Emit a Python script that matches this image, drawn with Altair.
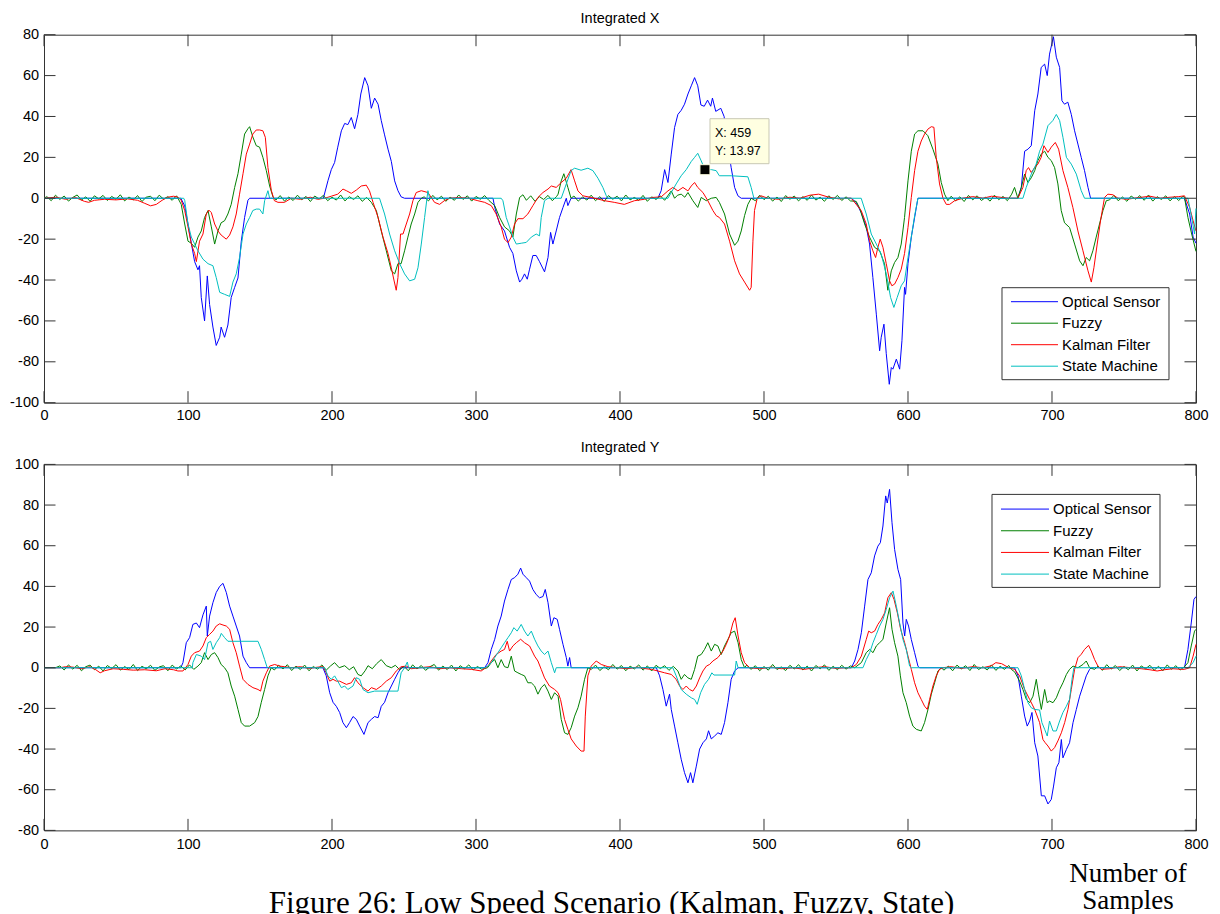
import altair as alt
import pandas as pd

SERIES = ["Optical Sensor", "Fuzzy", "Kalman Filter", "State Machine"]
COLORS = ["#0000ff", "#008000", "#ff0000", "#00bfbf"]
X_TICKS = [0, 100, 200, 300, 400, 500, 600, 700, 800]
TOP_Y_TICKS = [-100, -80, -60, -40, -20, 0, 20, 40, 60, 80]
BOT_Y_TICKS = [-80, -60, -40, -20, 0, 20, 40, 60, 80, 100]
TOP_TITLE = "Integrated X"
BOT_TITLE = "Integrated Y"
CAPTION = "Figure 26: Low Speed Scenario (Kalman, Fuzzy, State)"
XLABEL_LINES = ["Number of", "Samples"]
TIP_X = [459]
TIP_Y = [13.97]

# ---------------- Integrated X ----------------
X_OPT = [(0,0),(95,0),(97.7,-3.7),(100,-12.6),(102.3,-22),(104.6,-31),(106.9,-35),(108,-33),(109.2,-48.5),
 (111.5,-60),(113.4,-38),(115,-52),(117.3,-63),(119.6,-72),(122,-68),(123,-63),(125.4,-68),(127.7,-62),(130,-48.5),
 (132.4,-43.6),(134.7,-39),(137,-21),(139.3,-9.4),(141.6,-1),(142.8,0),(194,0),(197.2,8.6),(199.5,14),(201.8,17.5),
 (204,25),(206.5,33),(208.8,36.6),(211,36),(213.4,39.5),(215.7,34),(218,41),(220,51),(222.7,59),(225,55),(227.3,44),
 (229.6,49),(232,46),(234.2,38),(236.5,31),(238.9,24),(241.2,18),(243.5,8.5),(245.8,3.7),(248,0.7),(250.4,0),
 (311.8,0),(313,-4.5),(316.4,-12.6),(319.8,-16),(323.3,-24),(325.6,-27),(328,-35.5),(330.3,-41),(331.9,-39.6),
 (333.7,-37),(335.6,-39.6),(337.2,-34.7),(339.5,-28),(341.8,-28),(344.1,-31),(347.6,-36),(350,-29),(351.8,-16.7),
 (353.4,-22.4),(355.7,-16),(358,-9.4),(360.4,-4.5),(362.7,0),(363.8,-3.6),(366,0),
 (426.3,0),(428.6,3.7),(431,14),(433.3,7.7),(435.6,21.6),(437.9,34.6),(440.2,41),(442.5,43),(444.8,46),(447.2,51),
 (449.5,55),(451.8,59),(454,55),(456.2,45.6),(458.5,45),(460.8,48),(463,45),(464.2,49),(466.5,42.5),(470,44),
 (472.3,40),(475,25),(477.2,15),(479.6,5.3),(481.9,1.2),(484.2,0),
 (560.6,0),(564,-2),(567.5,-7),(571,-14),(573.3,-22.4),(575.6,-38.8),(578,-56.7),(580.3,-74.6),(581.4,-68),
 (583.3,-61.6),(584.9,-76),(587,-91),(588.4,-82.8),(589.5,-83.6),(591.9,-78.7),(594.2,-83.6),(595.8,-69.7),
 (597.6,-43.6),(598.3,-47),(600,-32),(602.3,-19),(604.6,-9.4),(606.9,0),
 (676.3,0),(678.7,5.3),(681,23),(683.3,24),(685.6,25.7),(688,42.8),(690.2,51),(692.5,64),(694.9,65.6),(696.7,60),
 (698.3,70.5),(701,79),(703,69),(705.3,64),(706.9,47.7),(708.7,46),(711,47),(713.4,41),(715.7,33),(718,26.5),
 (720.3,20),(722.6,13.5),(725,5.3),(726.8,0),(792,0),(795.6,-7.7),(798,-19),(800,-22)]

X_FUZ = [(0,0),
 (93,0),(95.3,-3),(97.7,-12.6),(100,-21),(102.3,-22),(104.6,-24),(106.9,-19),(109.2,-16),(111.5,-9.4),(113.9,-6),
 (116.2,-14),(118.5,-22.4),(120.8,-16),(123,-12),(125.4,-11),(127.7,-7.7),(130,-3),(132.4,5.3),(134.7,12),(137,21.6),
 (139.3,31.4),(141.6,34),(142.8,35),(145,30),(147.4,25.7),(149.7,25),(152,20),(154.4,13.5),(156.7,6),(159,0.7),
 (227.3,-2),(230.8,-6),(234.2,-16),(237.7,-25.7),(241.2,-35.5),(243.5,-37),(245.8,-32),(248,-32),(250.4,-25.7),
 (252.7,-19),(255,-12.6),(257.4,-7.7),(259.7,-2),(262,0),
 (313,-3.6),(316.4,-9.4),(319.8,-14),(323.3,-16),(325.6,-19),(328,-7.7),(330.3,0.4),(332.6,1.7),
 (357,2),(359.2,8.5),(361,12),(363.8,5.3),(366,0),
 (435.6,3.6),(437.9,0),(440,1.5),(442.5,2),(445,0.5),(447.2,2.8),(450.6,-1.2),(454,-4.5),(456.4,0.4),(459.9,-1.2),
 (463.4,0),(466.8,0.4),(469,-2),(472.6,-7.7),(476.1,-17.5),(479.6,-23),(481.9,-21),(484.2,-16),(486.5,-8.5),
 (488.8,-3),(491.1,0),
 (564,-1.5),(566.5,-5),(569.9,-12.6),(573.3,-19),(576.8,-24),(580.3,-25.7),(583.7,-32),(586,-45),(588.4,-35.5),
 (590.7,-31.4),(593,-29),(595.3,-22.4),(597.6,-9.4),(600,8.5),(602.3,23),(604.6,31.4),(606.9,33),(610.4,33),
 (613.8,30.6),(617.3,24),(620.8,16.7),(623.1,7.7),(625.4,2),(627.7,-1.2),
 (672,2),(674,5.3),(676.3,0),(678.7,5.3),(681,11.8),(683.3,7.7),(685.6,10),(688,13.5),(690.2,18.4),(692.5,21.6),
 (694.9,23),(697.2,20),(699.5,18.4),(701.8,15),(704.1,7),(706.4,-6),(708.7,-12),(712.2,-14.3),(715.7,-22.4),
 (719.2,-30.6),(721.5,-33),(723.8,-29),(726.1,-30.6),(728.4,-25.7),(730.7,-19),(733,-12.6),(735.4,-6),(737.7,-1.2),
 (792,0.5),(794.4,-9.4),(797,-17.5),(800,-26)]

X_FUZ_NOISE = [
 (2, 3, [0.8,-1.2,1.5,-0.6,1.1,-1.4,0.4,1.6,-0.9,0.7,-1.5,1.2,-0.3,1.4,-1.1,0.9,-0.5,1.7,-1.3,0.6,-0.8,1.3,-1.6,0.5,1.0,-1.2,1.5,-0.4,0.8,-1.0,1.2]),
 (161, 3, [-0.9,1.3,-1.4,0.6,-1.1,1.5,-0.7,0.9,-1.6,1.1,-0.4,1.4,-1.2,0.5,-0.9,1.6,-1.3,0.8,-0.6,1.2,-1.5,0.4]),
 (264, 3, [0.7,-1.3,1.4,-0.8,1.0,-1.5,0.5,-1.0,1.6,-0.6,1.2,-1.4,0.9,-0.5,1.3,-1.1]),
 (335, 3, [-1.0,1.2,-1.5,0.8,-0.6,1.4,-1.2,0.9]),
 (368, 3, [1.1,-1.4,0.6,-0.9,1.5,-1.2,0.8,-1.6,1.3,-0.5,1.0,-1.3,1.6,-0.8,0.4,-1.1,1.4,-1.5,0.7,-0.6,1.2,-1.0]),
 (494, 3, [-1.2,1.5,-0.7,1.0,-1.4,0.6,-1.6,1.3,-0.5,1.1,-1.3,0.8,-1.0,1.6,-0.9,0.5,-1.5,1.2,-0.6,1.4,-1.1,0.7,-1.3]),
 (630, 3, [1.0,-1.3,0.7,-1.6,1.4,-0.8,1.2,-1.1,0.5,-1.4,1.5,-0.7,0.9,-1.2]),
 (740, 3, [-0.8,1.4,-1.2,0.6,-1.5,1.1,-0.5,1.3,-1.0,1.6,-1.4,0.8,-0.6,1.2,-1.3,0.9,-1.1,1.0]),
]

X_KAL = [(0,0),(8,0.5),(15,-0.5),(22,0.3),(28,-1.5),(31,-2),(35,-1),(42,-0.5),(50,-0.8),(58,-0.3),(65,-1),(70,-2.5),
 (74,-3.7),(78,-3),(82,-1),(86,0.5),(90,1),(93,0.5),
 (95.3,-1),(97.7,-6),(100,-14),(102.3,-22.4),(104.6,-27),(105.8,-31),(108,-21),(110.4,-17.5),(112.7,-7.7),(114.5,-5.8),
 (116.2,-7),(118.5,-12.6),(120.8,-16),(123,-18),(126.6,-20),(128.9,-18),(131.2,-14),(133.5,-7.7),(135.8,2),(138.2,12),
 (140.5,21.6),(142.8,26.5),(145,31.4),(147.4,33.4),(149.7,33.4),(152,33),(153.7,29.8),(155.5,15),(157.9,3.7),
 (160,-1.2),(162.5,-2),(167,-2),(171.7,0),(178,-0.5),(185,0.5),(190,-0.5),
 (194.9,0),(199.5,1),(204,2),(207.6,4.5),(210,3.7),(213.4,2.4),(216.9,4),(220.3,6),(223.8,6.4),(226,3.7),(228.5,-2),
 (232,-9.4),(235.4,-19),(238.9,-27),(241.2,-34),(243,-40),(244.6,-45),(245.8,-38.8),(247.6,-17.5),(249.3,-17.5),
 (251.6,-12.6),(253.9,-7.7),(256.2,-1.2),(258.5,2.8),(262,3.7),(266.6,2.8),(271.2,-2),(274.7,-3),(278,-1.2),
 (281.6,0),(288,0.3),(295,0),
 (301.3,-1.2),(306,-2),(310.6,-3.6),(314,-7.7),(317.5,-14),(319.8,-20),(322.2,-21.7),(324.5,-19),(326.8,-12.6),
 (329.1,-10),(332.6,-10),(336,-7.7),(339.5,-3.6),(343,0.4),(346.5,2.8),(350,4.5),(352.3,6),(355.7,5.3),(359.2,7.7),
 (362.7,9.8),(366,14),(368.5,8.5),(370.8,3.6),(374.2,1.2),(380,0.4),(389.3,-1.2),(396,-2),(403,-3),(410,-1.2),
 (417,-0.5),(422.9,0.4),(428.6,0.7),(433.3,3.6),(436.7,5.3),(440.2,3.6),(443.7,5.3),(447.2,3.6),(449.5,6),(451.8,7.7),
 (454,5.3),(457.6,2.8),(461,-1.2),(464.5,-6),(466.8,-8.5),(469,-9.4),(472.6,-12.6),(476.1,-21),(479.6,-30.6),
 (483,-37),(486.5,-41),(490,-45),(491.1,-43.6),(492.3,-21),(493.4,-6),(495.3,0),(498,1.2),(502.7,0),(510,-0.5),
 (518,0.5),(525,0),(532,1.5),(538,2),(545,0.5),(552,-0.3),(558,0),
 (560.6,0),(567.5,-6),(571,-12.6),(573.3,-20.8),(575.6,-25.7),(577.5,-29),(579.1,-24),(580.7,-20),(582.6,-24),
 (584.9,-32),(587.2,-40.4),(588.8,-42.8),(590.7,-42),(593,-38.8),(595.3,-34.7),(597.6,-27),(600,-14.3),(602.3,0.4),
 (604.6,13.5),(606.9,23),(609.2,28),(611.5,31.4),(613.8,33.8),(616.2,35),(618,34.7),(619.6,20),(621.9,7),(624.3,0),
 (626.6,-3),(628.9,-3),(632.4,-1.2),(638,0),(645,0.8),(652,0),(658,1),(664,0.5),(670,0),
 (676.3,0),(679.8,5.3),(682.1,13.5),(683.7,15),(685.6,12.6),(688,15),(690.2,16.7),(692.5,20),(694.4,25.7),
 (697.2,22.4),(699.5,25),(702.3,27.3),(704.6,24),(707.6,13.5),(711,5.3),(714.5,-4.5),(718,-16),(721.5,-25.7),
 (725,-35.5),(727.3,-41),(729.1,-34),(731.4,-22.4),(733.7,-11),(736.5,0.4),(738.8,2),(742.3,1.7),(745.8,0),
 (752,-0.5),(760,0.3),(768,1),(775,0),(782,0.5),(788,0.8),(792,1.2),(795.6,-4.5),(798,-11),(800,-16)]

X_SM = [(0,0),(97,0),(97.7,-1),(100,-12.6),(102.3,-19),(104.6,-22.4),(106.9,-25.7),(110.4,-29.8),(113.9,-32),
 (117.3,-33),(119.6,-38.8),(122,-46),(125.4,-47),(128.9,-48),(131.2,-41),(133.5,-37),(135.8,-29),(138.2,-17.5),
 (140.5,-12.6),(142.8,-9.4),(145,-6),(147.4,-5.3),(149.7,-5.3),(152,-7.7),(153.2,-1.2),(155.5,3.7),(156.7,0),
 (233,0),(236.5,-7.7),(240,-17.5),(243.5,-25.7),(247,-32),(250.4,-37),(253.9,-40.4),(257.4,-39.6),(259.7,-34),
 (262,-22.4),(264.3,-9.4),(266.6,3.7),(267.8,0),
 (317.5,0),(318.7,-1.2),(321,-9.4),(323.3,-14),(325.6,-19),(328,-22.4),(331.4,-22),(334.9,-21.6),(338.4,-19),
 (341.8,-17.5),(344.1,-18.4),(345.3,-9.4),(347.6,-1.2),(350,0),(359.2,0),(362.7,7),(366,13.5),(368.5,14.7),
 (373,13.7),(377.7,14.7),(381.2,13.5),(384.7,9.8),(388.1,5.3),(390.5,1.2),(391.6,0),
 (433.3,0),(435.6,2.8),(439,7),(442.5,11),(446,14),(449.5,18),(451.8,20),(454,22),(456.4,18.3),(459,13.97),
 (463.4,14),(466.8,13.5),(469,11),(477.2,11),(488.8,10.5),(491.1,5.3),(493,0),
 (567.5,0),(571,-7.7),(574.5,-17.5),(578,-22.4),(581.4,-27.3),(584.9,-37),(587.9,-48.5),(590.2,-53.4),(592.5,-48.5),
 (595.3,-42.8),(597.6,-40.4),(600,-29),(602.3,-19),(604.6,-8.6),(606.9,0),
 (679.8,0),(682.1,5.3),(685.6,11.8),(689,16.7),(691.4,23),(693.7,26.5),(697.2,35.5),(700.6,38),(703,41),(705.3,38),
 (707.6,29.8),(710,20),(713.4,16.7),(716.9,11.8),(720.3,3.7),(722.6,0),(794.4,0),(797,-9.4),(799,-17.5),(800,-5)]

# ---------------- Integrated Y ----------------
Y_OPT = [(0,0),(95,0),(96.5,2.5),(98.8,12.3),(101.1,14.8),(103.4,21.3),(105.8,22),(108,19.7),(110.4,26),(112.7,30.3),
 (113.4,15.6),(115,25.4),(117.3,32),(119.6,37),(122,40),(124.3,41.5),(126.6,37),(128.9,30.3),(131.2,25.4),(133.5,20.5),
 (135.8,15.6),(138.2,5.7),(140.5,2.5),(142.8,0),
 (193.7,0),(196,-4),(198.4,-12.3),(200.7,-17),(203,-19),(205.3,-22),(207.6,-27),(210,-29.5),(212.2,-27),(214.6,-24),
 (216.9,-25.4),(219.2,-28.7),(222.2,-32.8),(225,-27),(227.3,-25.4),(229.6,-24),(232,-24.6),(234.2,-19),(236.5,-17),
 (238.9,-12.3),(241.2,-9),(243.5,-5.7),(245.8,-2.5),(248,0),
 (306,0),(308.3,2.5),(310.6,9),(313,14),(315.2,20.5),(317.5,25.4),(319.8,32.8),(322.2,38.5),(324.5,43.4),(326.8,44.3),
 (329.1,46),(331,49),(332.6,46),(334.9,44.3),(337.2,42.6),(339.5,38.5),(341.8,36),(344.1,34.4),(346.5,35),(348.1,38.5),
 (350,32),(352.3,20.5),(354.1,24.6),(356.4,23.8),(358,18.9),(360.4,11.5),(362.7,5),(363.8,0.8),(365,5),(366.1,0),
 (425.2,0),(427.5,-4),(429.8,-10.7),(432.1,-18.9),(434.4,-13),(435.6,-20.5),(437.9,-28.7),(440.2,-36.9),(442.5,-45),
 (444.8,-51.6),(447.2,-56.6),(449,-51.6),(450.6,-56.6),(453,-48.4),(455.3,-40),(457.6,-36.9),(460,-35),(461.5,-31),
 (463.4,-35),(465.7,-33.6),(468,-32),(470.3,-32.8),(472.6,-27),(475,-17),(477.2,-5.7),(479.6,-1.6),(482,0),
 (560.6,0),(563,3.3),(565.3,9),(567.6,17.2),(569.9,30.3),(572.2,43.4),(574.5,46.7),(576.8,55),(579.1,59.8),(580.8,61.5),
 (582.6,69.7),(584.5,84.5),(585.6,81),(587.2,87.7),(588.9,71.3),(590.7,58.2),(593,48.4),(594.9,43.4),(596.5,22),
 (597.7,15.6),(598.8,23.8),(600.4,20.5),(602.3,13.9),(604.6,7.4),(606.9,0.8),(608,0),
 (674,0),(676.4,-4),(678.7,-14),(681,-23.8),(682.8,-28.7),(684.5,-26.2),(686.1,-22),(688,-36.9),(690.2,-43.4),
 (692.6,-63),(694.9,-63),(697.2,-67),(699.5,-64.8),(701.1,-58.2),(703,-49.2),(704.8,-46.7),(706.5,-35.3),(707.6,-44.3),
 (710,-40.2),(712.2,-36.9),(714.6,-27),(716.9,-20.5),(719.2,-14),(721.5,-9),(723.8,-4),(726.1,-0.8),(727.3,0),
 (792,0),(794.4,9),(796.7,22),(798.6,33.6),(800,35)]

Y_FUZ = [(0,0),(8,0),
 (106.9,0.8),(109.2,2.5),(111.5,7.4),(113.9,4),(116.2,6.5),(118.5,7.4),(120.8,5),(123,1.6),(125.4,0),(127.7,-2.5),
 (130,-9),(132.4,-14),(134.7,-20.5),(137,-27),(139.3,-28.7),(142.8,-28.7),(146.3,-27),(148.6,-24),(150.9,-17),
 (153.2,-10.7),(155.5,-4),(157.8,0),
 (201.8,2.5),(205,0),(208.8,1),(212,-1),(215,0.5),(218,-3.3),(220.3,-4),(223,-1.5),(225,1),(228,-0.5),(231,2),
 (234.2,4),(237.7,1),(241.2,0),
 (308,0),(310.6,2.5),(313,4),(315.2,0),(317.5,4),(319.8,0.5),(322.2,0),(324.5,5.7),(326.8,-1.6),(329.1,-2.5),
 (331.4,-3.3),(333.7,-4),(336,-7.4),(338.4,-7.4),(340.7,-9),(343,-13),(345.3,-9.8),(347.6,-8.2),(350,-11.5),
 (352.3,-15.6),(354.6,-12.3),(357,-14),(359.2,-25.4),(361.5,-32),(363.8,-32.8),(366.1,-29.5),(368.5,-23.8),
 (370.8,-19.7),(373,-14),(375.4,-5.7),(377.7,0),
 (440.2,-1.6),(442.5,-5.7),(444.8,-3.3),(447.2,-5),(449.5,-5.7),(451.8,-0.8),(454,5.7),(456.4,6.5),(458.7,9),
 (461,12.3),(463.4,8.2),(465.7,11.5),(468,10.7),(470.3,6.5),(472.6,10.7),(475,14),(477.2,17.2),(479.6,18),(482,12.3),
 (484.2,4),(486.5,0),
 (563,0),(567.6,2.5),(571,7.4),(573.4,9),(575.7,7.4),(578,10.7),(580.3,12.3),(582.6,13.9),(584.9,22),(587.2,29.5),
 (588.9,18.9),(590.7,12.3),(593,5.7),(594.7,-4),(596.5,-12.3),(598.8,-17.2),(601.1,-23.8),(603.4,-28.7),(605.8,-30.3),
 (609.2,-31.1),(611.5,-27),(613.9,-20.5),(616.2,-13),(618.5,-7.4),(620.8,-1.6),(623.1,0),
 (671.7,-0.8),(674,-2),(677.5,-6.6),(679.8,-10.7),(682.2,-15.6),(684.5,-17.2),(686.8,-14),(689.1,-5.7),(690.7,-13),
 (692.6,-20.5),(694.9,-10.7),(696.7,-17.2),(698.3,-16.4),(700.7,-17.2),(703,-14.8),(705.3,-10.7),(707.6,-7.4),
 (710,-3.3),(712.2,-0.8),(714.6,0.8),(718,0),(721.5,1.6),(723.8,3.3),(726.1,0),(729.6,-0.8),
 (792,0.5),(794.4,2.5),(796.7,10.7),(799,18),(800,18.9)]

Y_FUZ_NOISE = [
 (11, 3, [0.9,-1.1,1.4,-0.7,1.2,-1.5,0.5,1.3,-1.0,0.8,-1.6,1.1,-0.4,1.5,-1.2,0.6,-0.9,1.6,-1.4,0.7,-0.5,1.2,-1.3,0.4,1.0,-1.5,1.3,-0.6,0.9,-1.1,1.4,-0.8]),
 (160, 3, [-1.1,1.2,-0.6,1.5,-1.4,0.8,-0.9,1.3,-1.5,0.6,-0.7,1.4,-1.2,0.9]),
 (244, 3, [1.2,-1.0,0.7,-1.5,1.4,-0.6,1.1,-1.3,0.5,1.6,-1.2,0.8,-0.9,1.3,-1.6,1.0,-0.5,1.4,-1.1,0.6,-0.8]),
 (380, 3, [-0.9,1.3,-1.4,0.5,-1.0,1.6,-0.7,1.1,-1.5,0.8,-0.6,1.4,-1.2,0.9,-1.6,1.2,-0.4,1.0,-1.3,0.7]),
 (488, 3, [1.3,-0.8,1.0,-1.5,0.6,-1.2,1.6,-0.9,0.4,-1.4,1.2,-0.6,1.5,-1.1,0.8,-1.6,1.1,-0.5,1.4,-1.3,0.7,-1.0,1.2,-0.7,0.9]),
 (625, 3, [-1.2,0.8,-1.5,1.3,-0.6,1.0,-1.4,1.6,-0.9,0.5,-1.1,1.4,-1.3,0.7,-0.8,1.1]),
 (732, 3, [0.8,-1.3,1.5,-0.7,1.1,-1.4,0.6,-1.0,1.3,-1.6,0.9,-0.5,1.2,-1.2,0.7,-1.5,1.4,-0.8,1.0,-1.1]),
]

Y_KAL = [(0,0),(11,0),(15,0.5),(20,0.3),(26,-0.5),(32,0.5),(36,-1),(39,-2.5),(42,-1.5),(48,-0.5),(55,-0.8),(62,-1.2),
 (70,-1),(78,-1.5),(84,-0.5),(90,-1),(93,-1.6),(96.5,-1.6),(100,1.6),(102.3,5.7),(104.6,7.4),(108,8.2),(110.4,10.7),
 (112.7,14.8),(115,16.4),(117.3,18),(119.6,20.5),(122,21.6),(124.3,21),(126.6,20.5),(128.9,18.9),(131.2,12.3),
 (133.5,7.4),(135.8,0.8),(138.2,-5.7),(141.6,-8.2),(145.1,-9.8),(148.6,-10.7),(150.4,-11.5),(152,-6.6),(154.4,-2.5),
 (156.7,0.8),(160.2,1.6),(163.6,0.8),(167.1,0.5),(172,0),(178,0.5),(184,-0.3),(190.3,0.3),
 (193.7,0.5),(196,-2.5),(198.4,-6.6),(200.7,-5.7),(203,-6.6),(205.3,-6.6),(207.6,-7.4),(210,-8.2),(213.4,-7.4),
 (215.7,-4.9),(218,-7.4),(221.5,-9.8),(225,-11.5),(227.3,-9.8),(230.8,-10.7),(234.2,-9),(237.7,-6.6),(241.2,-4.9),
 (244.6,-1.6),(248,0.5),(251.6,0.8),(255,-0.5),(260.8,0),(268,0.5),(275,-0.5),(282,0),(290,-0.5),(296.7,-0.8),
 (303.6,-1.6),(308.3,0.8),(310.6,3.3),(314,6.5),(317.5,8.2),(319.8,9),(321.7,13),(323.3,8.2),(325.6,10.7),(328,12.3),
 (331,14),(333.7,12.3),(337.2,10.7),(340.7,5.7),(343,3.3),(345.3,-0.8),(347.6,-5),(351,-9),(354.6,-10.7),(357,-12.3),
 (358.7,-15.6),(361.5,-25.4),(363.8,-30.3),(366.1,-35),(369.6,-38.5),(373,-41),(375,-41),(375.9,-23.8),(377.7,-4),
 (380,0.8),(383.5,3.3),(387,1.6),(391.6,0.5),(398.5,0),(405,-0.5),(412,0.3),(418,-0.5),
 (421.7,-0.8),(426.3,-1.6),(431,-2.5),(435.6,-3.3),(439,-5.7),(441.4,-9),(443.7,-10.7),(446,-9),(448.3,-10.7),
 (450.6,-11.5),(453,-9),(455.3,-5),(457.6,-1.6),(460,0.8),(462.2,1.6),(464.5,3.3),(468,5),(471.5,8.2),(473.8,11.5),
 (476.1,15.6),(478.4,22),(480,24.6),(482,15.6),(484.2,7.4),(486.5,2.5),(490,0),(497,-0.5),(505,0.3),(512,-0.5),
 (520,0),(528,-0.8),(535,0),(542,0.5),(550,-0.3),(556,0),
 (560.6,0),(564.1,1.6),(567.6,5.7),(571,13.9),(572.7,18),(574.5,17.2),(576.8,18),(579.1,21.3),(581.5,23.8),
 (583.8,27),(586,34.4),(588.4,36.9),(590.3,33.6),(592.6,27),(594.9,18.9),(597.7,12.3),(600,5.7),(602.3,-0.8),
 (604.6,-7.4),(606.9,-12.3),(609.2,-15.6),(611.5,-18.9),(613.4,-20.5),(615,-15.6),(617.3,-9),(619.6,-4),(621.9,-0.8),
 (624.3,0),(630,0.5),(637,-0.3),(645,0.5),(652,0),(658,1),(661,2.5),(665,2),(670,0),
 (674,-0.8),(677.5,-4),(681,-10.7),(684.5,-15.6),(688,-20.5),(691.4,-27),(693.7,-35.3),(695.3,-36.9),(697.2,-38.5),
 (699.5,-41),(701.8,-39.3),(704.1,-36),(706.5,-32),(708.8,-27),(711.1,-20.5),(713.4,-10.7),(715.7,-0.8),(718,4.9),
 (720.3,6.6),(722.6,9),(725.4,11),(727.3,8.2),(729.6,4),(731.9,0.8),(734.2,-0.8),(740,-0.5),(747,0.5),(755,0),
 (762,-0.5),(768,-1),(773,-1.6),(778,-1),(784,-0.5),(790,-0.8),(792,-0.8),(795.6,0),(798,5.7),(800,11.5)]

Y_SM = [(0,0),(103,0),(103.4,2.5),(105.8,6.5),(109.2,5.7),(111.5,4),(113.9,12.3),(115.7,13),(117.3,9),(119.6,12.3),
 (122,14.8),(123.1,16.9),(125.4,14.8),(127.7,13),(148.6,13),(150.9,9),(153.2,4),(155,0),
 (194.9,0),(197.2,-4),(199.5,-5.7),(201.8,-4),(204,-6.6),(206.5,-9.8),(208.8,-9),(211,-10.7),(214.6,-9),(216.9,-4.9),
 (219.2,-5.7),(221.5,-10.7),(225,-12.3),(229.6,-11.5),(245.8,-11.5),(248,-2.5),(250.4,0),(252.3,2.8),(253.2,0),
 (306,0),(308.3,0.8),(310.6,2.5),(313,5),(315.2,7.4),(317.5,9.8),(319.8,12.3),(322.2,14.8),(324.5,17.2),(326.3,19.7),
 (328.6,18),(331.4,21.3),(333.7,18),(336,15.6),(338.4,18),(340.7,14),(343,10.7),(345.3,8.2),(347.6,6.5),(350,8.2),
 (352.3,2.5),(354.6,-2.5),(355.7,0),
 (436.7,0),(439,-4),(442.5,-10.7),(446,-13),(449.5,-14.8),(451.8,-15.6),(453.6,-18),(456,-12.3),(458.7,-8.2),
 (461.5,-5.7),(463.8,-2.5),(465.2,-3.6),(479.6,-3.6),(480.7,3.3),(482,0),
 (568.7,0),(571,4),(573.4,7.4),(575.7,12.3),(578,16.4),(580.3,20.5),(582.6,23.8),(584.9,28.7),(587.2,34.4),
 (589.6,37.7),(591.9,30.3),(594.2,22),(596.5,13.9),(598.8,9),(601.1,0.8),(602.3,0),
 (676.4,0),(678.7,-4),(681,-10.7),(683.3,-17.2),(685.6,-19.7),(688,-20.5),(691.4,-20.8),(693,-27),(694.9,-30.3),
 (696.7,-33.6),(698.3,-26.2),(700.7,-31.1),(703,-31.1),(705.3,-26.2),(707.6,-22),(710,-18.9),(712.2,-15.6),
 (713.9,-5.7),(715.2,0),(794.4,0),(798,2.5),(800,5.7)]

FONT = "Liberation Sans"
SERIF = "Liberation Serif"
AX = "#333333"
W = 1152
TL = 11.5


def build(points, runs=()):
    pts = list(points)
    for start, step, vals in runs:
        pts += [(start + i * step, v) for i, v in enumerate(vals)]
    pts.sort()
    return pd.DataFrame(pts, columns=["s", "v"])


def one_row():
    return pd.DataFrame({"k": [0]})


def panel(series_frames, ydom, yticks, title, H, xpad, leg, extras):
    xs = alt.Scale(domain=[0, 800], nice=False, zero=False)
    ys = alt.Scale(domain=ydom, nice=False, zero=False)
    common = dict(ticks=False, domain=False, grid=False, labelFont=FONT, labelFontSize=14.5,
                  labelColor="black", labelFlush=False, labelOverlap=False, title=None,
                  labelExpr="'' + datum.value")
    xax = alt.Axis(values=X_TICKS, labelPadding=xpad, **common)
    yax = alt.Axis(values=yticks, labelPadding=5.5, minExtent=35, maxExtent=35, **common)
    X = lambda f: alt.X(f, type="quantitative", scale=xs, axis=xax)
    Y = lambda f: alt.Y(f, type="quantitative", scale=ys, axis=yax)
    layers = []
    for name, color in zip(SERIES, COLORS):
        layers.append(alt.Chart(series_frames[name]).mark_line(color=color, strokeWidth=1).encode(
            x=X("s"), y=Y("v")))
    xt = pd.DataFrame({"s": X_TICKS})
    yt = pd.DataFrame({"v": yticks})
    layers.append(alt.Chart(xt).mark_rule(color=AX, strokeWidth=1).encode(
        x=X("s"), y=alt.value(0), y2=alt.value(TL)))
    layers.append(alt.Chart(xt).mark_rule(color=AX, strokeWidth=1).encode(
        x=X("s"), y=alt.value(H - TL), y2=alt.value(H)))
    layers.append(alt.Chart(yt).mark_rule(color=AX, strokeWidth=1).encode(
        y=Y("v"), x=alt.value(0), x2=alt.value(TL)))
    layers.append(alt.Chart(yt).mark_rule(color=AX, strokeWidth=1).encode(
        y=Y("v"), x=alt.value(W - TL), x2=alt.value(W)))
    # legend (drawn by hand, MATLAB style)
    bx0, by0, bx1, by1, ly0, lstep, lx0, lx1, tx = leg
    layers.append(alt.Chart(one_row()).mark_rect(fill="white", stroke=AX, strokeWidth=1).encode(
        x=alt.value(bx0), x2=alt.value(bx1), y=alt.value(by0), y2=alt.value(by1)))
    for i, (name, color) in enumerate(zip(SERIES, COLORS)):
        yy = ly0 + i * lstep
        layers.append(alt.Chart(one_row()).mark_rule(color=color, strokeWidth=1).encode(
            x=alt.value(lx0), x2=alt.value(lx1), y=alt.value(yy)))
        layers.append(alt.Chart(pd.DataFrame({"name": [name]})).mark_text(
            align="left", baseline="middle", font=FONT, fontSize=15, color="black").encode(
            x=alt.value(tx), y=alt.value(yy), text="name:N"))
    layers += extras(X, Y)
    return alt.layer(*layers).properties(
        width=W, height=H,
        title=alt.TitleParams(title, font=FONT, fontSize=14.5, fontWeight="normal", color="black",
                              offset=0.5, anchor="middle", frame="group"))


def top_extras(X, Y):
    tip = pd.DataFrame({"s": TIP_X, "v": TIP_Y})
    out = []
    out.append(alt.Chart(one_row()).mark_rect(fill="#ffffe1", stroke="#c8c8b4", strokeWidth=1).encode(
        x=alt.value(666), x2=alt.value(725), y=alt.value(84), y2=alt.value(129)))
    out.append(alt.Chart(tip).transform_calculate(lab="'X: ' + datum.s").mark_text(
        align="left", baseline="alphabetic", font=FONT, fontSize=12.5, color="black").encode(
        x=alt.value(671), y=alt.value(102.7), text="lab:N"))
    out.append(alt.Chart(tip).transform_calculate(lab="'Y: ' + datum.v").mark_text(
        align="left", baseline="alphabetic", font=FONT, fontSize=12.5, color="black").encode(
        x=alt.value(671), y=alt.value(120), text="lab:N"))
    out.append(alt.Chart(tip).mark_square(size=100, color="black", stroke="#ffffe1", strokeWidth=1, opacity=1).encode(
        x=X("s"), y=Y("v")))
    return out


def bottom_extras(X, Y):
    out = []
    out.append(alt.Chart(pd.DataFrame({"t": [CAPTION]})).mark_text(
        align="center", baseline="alphabetic", font=SERIF, fontSize=31, color="black").encode(
        x=alt.value(567.5), y=alt.value(449), text="t:N"))
    for i, line in enumerate(XLABEL_LINES):
        out.append(alt.Chart(pd.DataFrame({"t": [line]})).mark_text(
            align="center", baseline="alphabetic", font=SERIF, fontSize=27, color="black").encode(
            x=alt.value(1084), y=alt.value(418 + i * 27), text="t:N"))
    return out


top_frames = {
    "Optical Sensor": build(X_OPT),
    "Fuzzy": build(X_FUZ, X_FUZ_NOISE),
    "Kalman Filter": build(X_KAL),
    "State Machine": build(X_SM),
}
bot_frames = {
    "Optical Sensor": build(Y_OPT),
    "Fuzzy": build(Y_FUZ, Y_FUZ_NOISE),
    "Kalman Filter": build(Y_KAL),
    "State Machine": build(Y_SM),
}

top = panel(top_frames, [-100, 80], TOP_Y_TICKS, TOP_TITLE, 368, 6,
            (958, 253, 1125, 345, 267, 21.5, 967, 1014, 1018), top_extras)
bot = panel(bot_frames, [-80, 100], BOT_Y_TICKS, BOT_TITLE, 366, 7,
            (948, 30, 1116, 123, 44.7, 21.67, 957, 1005, 1009), bottom_extras)

chart = alt.vconcat(top, bot, spacing=16.7).properties(
    padding={"left": 0, "top": 1.7, "right": 0, "bottom": 0}, background="white"
).configure_view(stroke=AX, strokeWidth=1)

chart.save("out.html", embed_options={"renderer": "svg", "actions": False})
